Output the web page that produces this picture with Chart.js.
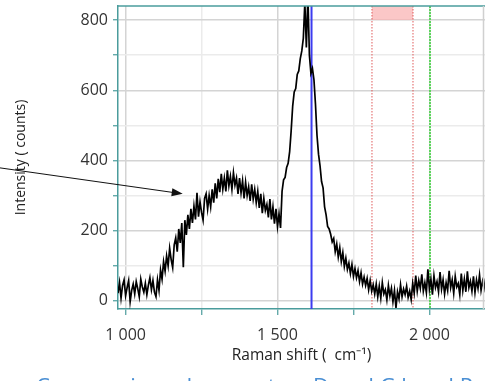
<!DOCTYPE html>
<html>
<head>
<meta charset="utf-8">
<script src="https://cdn.jsdelivr.net/npm/chart.js@4.4.0/dist/chart.umd.min.js"></script>
<style>
  body { margin: 0; background: #fff; }
  #wrap { position: relative; width: 485px; height: 381px; overflow: hidden; }
  #caption { position: absolute; left: 36px; top: 374px; font: 22px "Open Sans"; line-height: 1; color: #4a8fd4; white-space: nowrap; }
</style>
</head>
<body>
<div id="wrap">
  <canvas id="myChart" width="485" height="381"></canvas>
  <div id="caption">Comparaison des spectres D and G band P</div>
</div>
<script>
// Raman shift (cm-1) sampling
const shifts = [
  975, 980, 985, 990, 995, 1000, 1005, 1010, 1015, 1020,
  1025, 1030, 1035, 1040, 1045, 1050, 1055, 1060, 1065, 1070,
  1075, 1080, 1085, 1090, 1095, 1100, 1105, 1110, 1115, 1120,
  1125, 1130, 1135, 1140, 1145, 1150, 1155, 1160, 1165, 1170,
  1175, 1180, 1185, 1190, 1195, 1200, 1205, 1210, 1215, 1220,
  1225, 1230, 1235, 1240, 1245, 1250, 1255, 1260, 1265, 1270,
  1275, 1280, 1285, 1290, 1295, 1300, 1305, 1310, 1315, 1320,
  1325, 1330, 1335, 1340, 1345, 1350, 1355, 1360, 1365, 1370,
  1375, 1380, 1385, 1390, 1395, 1400, 1405, 1410, 1415, 1420,
  1425, 1430, 1435, 1440, 1445, 1450, 1455, 1460, 1465, 1470,
  1475, 1480, 1485, 1490, 1495, 1500, 1505, 1510, 1515, 1520,
  1525, 1530, 1535, 1540, 1545, 1550, 1555, 1560, 1565, 1570,
  1575, 1580, 1585, 1590, 1595, 1600, 1605, 1610, 1615, 1620,
  1625, 1630, 1635, 1640, 1645, 1650, 1655, 1660, 1665, 1670,
  1675, 1680, 1685, 1690, 1695, 1700, 1705, 1710, 1715, 1720,
  1725, 1730, 1735, 1740, 1745, 1750, 1755, 1760, 1765, 1770,
  1775, 1780, 1785, 1790, 1795, 1800, 1805, 1810, 1815, 1820,
  1825, 1830, 1835, 1840, 1845, 1850, 1855, 1860, 1865, 1870,
  1875, 1880, 1885, 1890, 1895, 1900, 1905, 1910, 1915, 1920,
  1925, 1930, 1935, 1940, 1945, 1950, 1955, 1960, 1965, 1970,
  1975, 1980, 1985, 1990, 1995, 2000, 2005, 2010, 2015, 2020,
  2025, 2030, 2035, 2040, 2045, 2050, 2055, 2060, 2065, 2070,
  2075, 2080, 2085, 2090, 2095, 2100, 2105, 2110, 2115, 2120,
  2125, 2130, 2135, 2140, 2145, 2150, 2155, 2160, 2165, 2170,
  2175, 2180, 2185
]

// intensity (counts)
const counts = [
  22, 52, 8, 44, 60, 15, 38, 58, -2, 30,
  48, 20, 55, 35, 12, 62, 40, 25, 50, 18,
  45, 66, 32, 58, 25, 12, 60, 30, 88, 62,
  112, 85, 128, 100, 150, 118, 95, 160, 180, 140,
  205, 165, 222, 96, 230, 188, 245, 205, 262, 222,
  270, 232, 308, 240, 282, 252, 230, 292, 305, 262,
  300, 268, 318, 280, 335, 292, 348, 310, 362, 318,
  350, 312, 372, 328, 355, 318, 365, 330, 350, 305,
  350, 308, 342, 292, 338, 300, 325, 285, 332, 290,
  318, 280, 312, 265, 305, 250, 292, 258, 275, 238,
  290, 232, 268, 220, 262, 212, 248, 208, 312, 345,
  352, 380, 392, 425, 485, 555, 595, 605, 645, 655,
  690, 712, 748, 850, 722, 870, 700, 648, 662, 630,
  560, 472, 418, 385, 340, 322, 268, 245, 212, 205,
  190, 168, 178, 140, 162, 125, 152, 112, 138, 98,
  122, 90, 108, 78, 104, 70, 92, 66, 86, 55,
  80, 48, 68, 44, 64, 32, 58, 28, 46, 20,
  48, 12, 42, 8, 52, 20, 32, 3, 44, 14,
  36, -2, 30, -20, 26, 6, 46, 12, 34, 18,
  42, 10, 28, 4, 50, 22, 72, 28, 58, 36,
  76, 28, 52, 24, 90, 34, 62, 18, 72, 38,
  55, 26, 82, 34, 60, 20, 52, 30, 86, 38,
  60, 22, 70, 40, 50, 18, 78, 30, 62, 26,
  84, 38, 56, 28, 70, 24, 60, 36, 74, 30,
  56, 36, 64
]

const xTickValues = [1000, 1250, 1500, 1750, 2000]
const xLabelled = [1000, 1500, 2000]
const yTickValues = [0, 100, 200, 300, 400, 500, 600, 700, 800]
const yLabelled = [0, 200, 400, 600, 800]

// markers on the plot (cm-1)
const blueLine = [1612]
const redLines = [1811, 1946]
const greenLine = [2002]
const redBand = [1811, 1946, 800, 840]   // x from, x to, y from, y to

// arrow pointing at the D band (data units)
const arrowFrom = [586, 379]
const arrowTo = [1188, 305]

const teal = '#4a9c9c'

const fmt = v => String(v).replace(/\B(?=(\d{3})+(?!\d))/g, ' ')

const overlay = {
  id: 'overlay',
  beforeDatasetsDraw(chart) {
    const { ctx, chartArea: a, scales: { x, y } } = chart
    ctx.save()
    ctx.beginPath()
    ctx.rect(a.left, a.top, a.right - a.left, a.bottom - a.top)
    ctx.clip()

    // pink band at the top
    const bx0 = x.getPixelForValue(redBand[0])
    const bx1 = x.getPixelForValue(redBand[1])
    const by0 = y.getPixelForValue(redBand[3])
    const by1 = y.getPixelForValue(redBand[2])
    ctx.fillStyle = 'rgba(250,180,180,0.75)'
    ctx.fillRect(bx0, by0, bx1 - bx0, by1 - by0)

    const vline = (v, color, w, dash) => {
      const px = x.getPixelForValue(v)
      ctx.beginPath()
      ctx.strokeStyle = color
      ctx.lineWidth = w
      ctx.setLineDash(dash)
      ctx.moveTo(px, a.top)
      ctx.lineTo(px, a.bottom)
      ctx.stroke()
    }
    redLines.forEach(v => vline(v, '#e05a5a', 1, [1.5, 1.5]))
    greenLine.forEach(v => vline(v, '#5cd65c', 2, [2, 1]))
    blueLine.forEach(v => vline(v, '#3c3cf0', 2, []))
    ctx.restore()
  },
  afterDraw(chart) {
    const { ctx, chartArea: a, scales: { x, y } } = chart
    ctx.save()
    // top and right frame
    ctx.strokeStyle = teal
    ctx.lineWidth = 1.5
    ctx.beginPath()
    ctx.moveTo(a.left, a.top)
    ctx.lineTo(a.right, a.top)
    ctx.stroke()
    ctx.strokeStyle = '#d0d0d0'
    ctx.beginPath()
    ctx.moveTo(a.right - 1.5, a.top)
    ctx.lineTo(a.right - 1.5, a.bottom)
    ctx.stroke()

    // arrow
    const x0 = x.getPixelForValue(arrowFrom[0]), y0 = y.getPixelForValue(arrowFrom[1])
    const x1 = x.getPixelForValue(arrowTo[0]), y1 = y.getPixelForValue(arrowTo[1])
    const ang = Math.atan2(y1 - y0, x1 - x0)
    ctx.strokeStyle = '#111'
    ctx.fillStyle = '#111'
    ctx.lineWidth = 1
    ctx.beginPath()
    ctx.moveTo(x0, y0)
    ctx.lineTo(x1 - 8 * Math.cos(ang), y1 - 8 * Math.sin(ang))
    ctx.stroke()
    ctx.beginPath()
    ctx.moveTo(x1, y1)
    ctx.lineTo(x1 - 11 * Math.cos(ang) + 4 * Math.sin(ang), y1 - 11 * Math.sin(ang) - 4 * Math.cos(ang))
    ctx.lineTo(x1 - 11 * Math.cos(ang) - 4 * Math.sin(ang), y1 - 11 * Math.sin(ang) + 4 * Math.cos(ang))
    ctx.closePath()
    ctx.fill()
    ctx.restore()
  }
}

const data = {
  datasets: [{
    label: 'spectrum',
    data: shifts.map((s, i) => ({ x: s, y: counts[i] })),
    borderColor: '#000',
    borderWidth: 1.7,
    pointRadius: 0,
    tension: 0
  }]
}

const config = {
  type: 'line',
  data: data,
  options: {
    responsive: false,
    animation: false,
    layout: { padding: { top: 6, right: 0, bottom: 0, left: 0 } },
    plugins: {
      legend: { display: false },
      tooltip: { enabled: false }
    },
    scales: {
      x: {
        type: 'linear',
        min: 975,
        max: 2183,
        afterBuildTicks: s => { s.ticks = xTickValues.map(v => ({ value: v })) },
        afterFit: s => { s.height = 72; s.paddingLeft = 0; s.paddingRight = 0 },
        border: { color: teal, width: 1.5 },
        grid: {
          color: c => xLabelled.includes(c.tick.value) ? '#d4d4d4' : '#ebebeb',
          lineWidth: 1.5,
          tickColor: teal,
          tickLength: 6,
          tickWidth: 1.2
        },
        ticks: {
          autoSkip: false,
          maxRotation: 0,
          padding: 11,
          color: '#333',
          font: { family: 'Open Sans', size: 16 },
          callback: v => xLabelled.includes(v) ? fmt(v) : ''
        },
        title: {
          display: true,
          text: 'Raman shift (  cm⁻¹)',
          color: '#222',
          font: { family: 'Open Sans', size: 15.5 },
          padding: { top: 0, bottom: 16 }
        }
      },
      y: {
        min: -23,
        max: 840,
        afterBuildTicks: s => { s.ticks = yTickValues.map(v => ({ value: v })) },
        afterFit: s => { s.width = 118; s.paddingTop = 0; s.paddingBottom = 0 },
        border: { color: teal, width: 1.5 },
        grid: {
          color: c => yLabelled.includes(c.tick.value) ? '#d4d4d4' : '#ebebeb',
          lineWidth: 1.5,
          tickColor: teal,
          tickLength: 5,
          tickWidth: 1.2
        },
        ticks: {
          autoSkip: false,
          padding: 5,
          color: '#333',
          font: { family: 'Open Sans', size: 16 },
          callback: v => yLabelled.includes(v) ? fmt(v) : ''
        },
        title: {
          display: true,
          text: 'Intensity ( counts)',
          color: '#222',
          font: { family: 'Open Sans', size: 14 },
          padding: { top: 13, bottom: 0 }
        }
      }
    }
  },
  plugins: [overlay]
}

const myChart = new Chart(document.getElementById('myChart'), config)
</script>
</body>
</html>
